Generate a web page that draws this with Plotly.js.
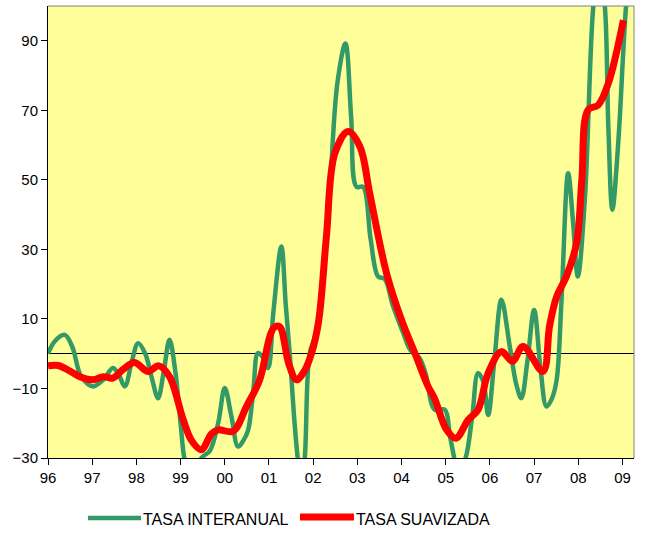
<!DOCTYPE html>
<html>
<head>
<meta charset="utf-8">
<script src="https://cdn.plot.ly/plotly-3.0.1.min.js"></script>
<style>html,body{margin:0;padding:0;background:#fff;}#chart{width:649px;height:534px;}</style>
</head>
<body>
<div id="chart"></div>
<script>
// TASA INTERANUAL (green)
var interX = [1996.00,1996.15,1996.38,1996.55,1996.75,1997.02,1997.25,1997.47,1997.60,1997.74,1997.90,1998.04,1998.20,1998.35,1998.49,1998.62,1998.75,1998.88,1999.00,1999.10,1999.28,1999.47,1999.66,1999.85,2000.00,2000.15,2000.30,2000.42,2000.53,2000.65,2000.75,2000.86,2000.98,2001.10,2001.28,2001.38,2001.47,2001.58,2001.66,2001.735,2001.81,2001.92,2002.05,2002.15,2002.30,2002.40,2002.55,2002.73,2002.86,2002.98,2003.13,2003.30,2003.47,2003.62,2003.80,2004.04,2004.20,2004.41,2004.55,2004.75,2004.98,2005.10,2005.30,2005.45,2005.60,2005.73,2005.85,2005.96,2006.10,2006.26,2006.45,2006.60,2006.71,2006.85,2007.00,2007.15,2007.28,2007.40,2007.51,2007.62,2007.77,2007.88,2007.99,2008.15,2008.34,2008.47,2008.60,2008.68,2008.77,2008.90,2009.08,2009.20];
var interY = [0,3.5,5.4,2,-6.5,-9.4,-7.5,-4.1,-6,-9.4,-2,3.0,0,-7,-12.8,-5,4.0,-5,-20,-31,-37,-30,-28,-20,-9.9,-18,-26.7,-25,-21.9,-10,0.2,-1,-4.1,12,30.8,14,0,-20,-31,-37,-30,0,5,11,34,52,78,89.2,68,48,48,33,22.2,21.5,14,5.9,1,-1.3,-6,-16.1,-16.1,-24,-34,-30,-18,-5.6,-8,-17.6,-2,15.5,2,-9,-12.8,-2,12.6,-5,-15.2,-13,-7.5,15.5,51.9,38,22.2,45,100,112,100,65,41.4,60,100,115];

// TASA SUAVIZADA (red)
var suavX = [1996.00,1996.23,1996.50,1996.75,1997.02,1997.25,1997.47,1997.70,1997.96,1998.26,1998.51,1998.75,1999.06,1999.25,1999.47,1999.70,1999.85,2000.19,2000.49,2000.79,2001.02,2001.12,2001.24,2001.45,2001.62,2001.80,2001.96,2002.12,2002.30,2002.49,2002.79,2003.06,2003.28,2003.66,2004.00,2004.30,2004.60,2004.75,2005.02,2005.23,2005.51,2005.73,2005.96,2006.26,2006.51,2006.75,2007.20,2007.35,2007.51,2007.73,2007.96,2008.08,2008.22,2008.45,2008.68,2009.02];
var suavY = [-3.5,-3.4,-5,-6.8,-7.5,-6.6,-7,-4.5,-2.5,-5.1,-3.5,-6.6,-19,-25,-27.6,-23,-21.9,-22.3,-15.2,-7.5,5,7.6,7.8,-3,-7.5,-5,0,9,33.7,57.6,63.9,59.5,46.1,23.2,9.7,0.2,-9.4,-13,-21.9,-24.3,-19,-16.1,-5.6,0.6,-2.2,2.1,-5.1,8,16.4,22.2,31.8,50,70.1,71.5,77.8,95.9];

var yearTicks = [1996,1997,1998,1999,2000,2001,2002,2003,2004,2005,2006,2007,2008,2009];
var yearLabels = ['96','97','98','99','00','01','02','03','04','05','06','07','08','09'];
var yTicks = [-30,-10,10,30,50,70,90];
var seriesNames = ['TASA INTERANUAL','TASA SUAVIZADA'];

var green = '#339966', red = '#FF0000';
var font = 'Liberation Sans, Arial, sans-serif';

var traces = [
  {x: interX, y: interY, type: 'scatter', mode: 'lines', name: seriesNames[0],
   line: {color: green, width: 4.5, shape: 'spline', smoothing: 1}, showlegend: false},
  {x: suavX, y: suavY, type: 'scatter', mode: 'lines', name: seriesNames[1],
   line: {color: red, width: 7, shape: 'spline', smoothing: 1}, showlegend: false}
];

var W = 586, H = 452; // plot area size in px
function px(p){ return (p - 48) / W; }
function py(p){ return (458 - p) / H; }

var layout = {
  width: 649, height: 534,
  margin: {l: 48, r: 15, t: 6, b: 76},
  paper_bgcolor: '#FFFFFF',
  plot_bgcolor: '#FFFF99',
  font: {family: font, size: 15, color: '#000'},
  showlegend: false,
  xaxis: {
    range: [1996, 2009.26], tickvals: yearTicks, ticktext: yearLabels,
    ticks: 'outside', ticklen: 6, tickcolor: '#000', tickwidth: 1,
    showline: true, linecolor: '#000', linewidth: 1, showgrid: false, zeroline: false,
    tickfont: {family: font, size: 15, color: '#000'}
  },
  yaxis: {
    range: [-30, 100], tickvals: yTicks,
    ticks: 'outside', ticklen: 6, tickcolor: '#000', tickwidth: 1,
    showline: true, linecolor: '#000', linewidth: 1, showgrid: false,
    zeroline: true, zerolinecolor: '#000', zerolinewidth: 1,
    tickfont: {family: font, size: 15, color: '#000'}
  },
  shapes: [
    {type: 'line', xref: 'paper', yref: 'paper', x0: 0, x1: 1, y0: 1, y1: 1, line: {color: '#808080', width: 1}},
    {type: 'line', xref: 'paper', yref: 'paper', x0: 1, x1: 1, y0: 0, y1: 1, line: {color: '#808080', width: 1}},
    {type: 'line', xref: 'paper', yref: 'paper', x0: px(88), x1: px(141), y0: py(518), y1: py(518), line: {color: green, width: 4.5}},
    {type: 'line', xref: 'paper', yref: 'paper', x0: px(300), x1: px(354), y0: py(517), y1: py(517), line: {color: red, width: 7}}
  ],
  annotations: [
    {xref: 'paper', yref: 'paper', x: px(141), y: py(519), xanchor: 'left', yanchor: 'middle', showarrow: false,
     text: seriesNames[0], font: {family: font, size: 16, color: '#000'}},
    {xref: 'paper', yref: 'paper', x: px(354), y: py(519), xanchor: 'left', yanchor: 'middle', showarrow: false,
     text: seriesNames[1], font: {family: font, size: 16, color: '#000'}}
  ]
};

Plotly.newPlot('chart', traces, layout, {displayModeBar: false, staticPlot: true});
</script>
</body>
</html>
